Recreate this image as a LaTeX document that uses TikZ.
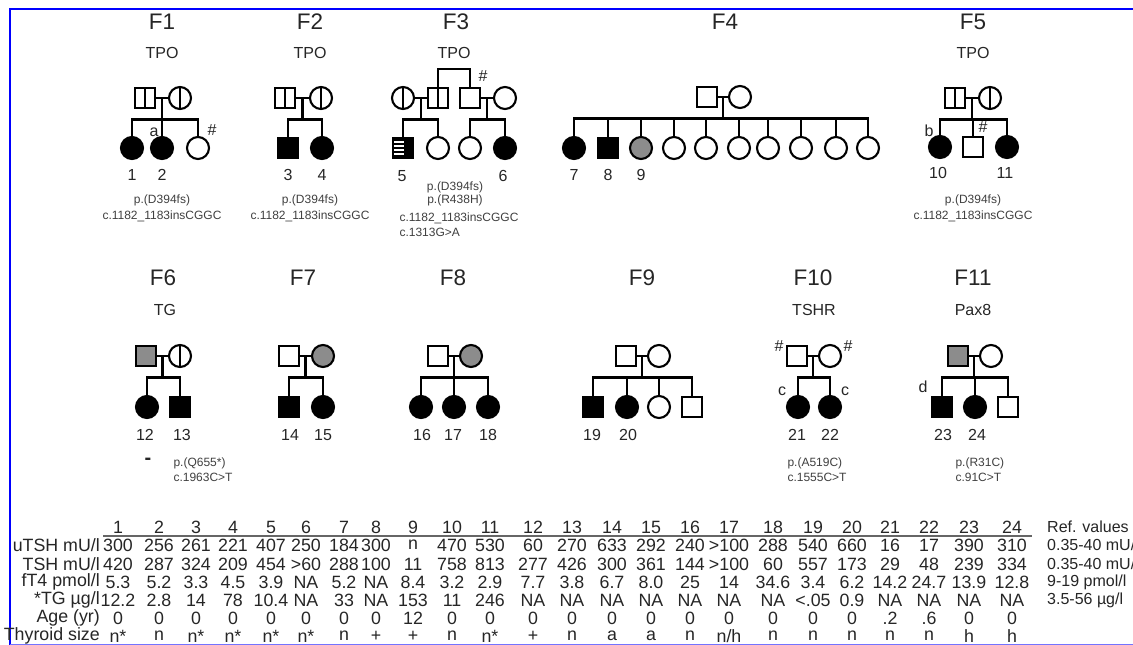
\documentclass[tikz,border=0pt]{standalone}
\usepackage{fontspec}
\setmainfont{Liberation Sans}
\usetikzlibrary{calc}
\tikzset{
  sym/.style={draw=black, line width=2.1pt, inner sep=0pt, outer sep=0pt},
  male/.style={sym, rectangle, minimum size=20pt},
  fem/.style={sym, circle, minimum size=22pt},
  aff/.style={fill=black},
  grey/.style={fill=black!45},
  vsplit/.style={path picture={\draw[line width=2.1pt] (path picture bounding box.north) -- (path picture bounding box.south);}},
  stripes/.style={fill=black, path picture={
     \foreach \k in {-7,-3,1,5}
       \fill[white] ($(path picture bounding box.center)+(-11,\k)$) rectangle ($(path picture bounding box.center)+(1,\k+2)$);}},
  ln/.style={line width=2.1pt, draw=black},
  ttl/.style={font=\fontsize{22.5}{24}\selectfont, text=black!85},
  gene/.style={font=\fontsize{16}{18}\selectfont, text=black!85},
  idl/.style={font=\fontsize{16}{18}\selectfont, text=black!85},
  mut/.style={font=\fontsize{12}{14}\selectfont, text=black!75},
  mutl/.style={mut, anchor=west},
  tab/.style={font=\fontsize{17.8}{20}\selectfont, text=black!85, inner sep=0pt},
  rowlab/.style={tab, anchor=east},
  refv/.style={font=\fontsize{16}{18}\selectfont, text=black!85, inner sep=0pt, anchor=west},
}
\newcommand{\couple}[1]{% prefix
  \draw[ln] (#1f.east) -- (#1m.west);
  \coordinate (#1j) at ($(#1f.east)!0.5!(#1m.west)$);
  \coordinate (#1s) at ($(#1j)+(0,21.5)$);
  \draw[ln] (#1j) -- (#1s);}
\begin{document}
\begin{tikzpicture}[x=1pt,y=-1pt]
\useasboundingbox (0,0) rectangle (1133,645);
\clip (0,0) rectangle (1133,645);
\fill[white] (0,0) rectangle (1133,645);
% border
\draw[blue, line width=2.5pt] (10,645) -- (10,9) -- (1133,9);
\draw[blue!55, line width=1.5pt] (10,644.5) -- (1133,644.5);

% ---------------- F1
\node[ttl] (F1t) at (162,22) {F1};
\node[gene] (F1g) at (162,53) {TPO};
\node[male,vsplit] (F1f) at (145,98) {};
\node[fem,vsplit] (F1m) at (180,98) {};
\couple{F1}
\node[fem,aff] (F1c1) at (132,148) {};
\node[fem,aff] (F1c2) at (162,148) {};
\node[fem] (F1c3) at (198,148) {};
\foreach \c in {F1c1,F1c2,F1c3} \draw[ln] (\c.north) |- (F1s);
\node[idl] (L1) at (132,175) {1};
\node[idl] (L2) at (162,175) {2};
\node[idl] (F1a) at (154,132) {a};
\node[idl] (F1h) at (212,130) {\#};
\node[mut] (F1p) at (162,200) {p.(D394fs)};
\node[mut] (F1cc) at (162,216) {c.1182\_1183insCGGC};

% ---------------- F2
\node[ttl] (F2t) at (310,22) {F2};
\node[gene] (F2g) at (310,53) {TPO};
\node[male,vsplit] (F2f) at (285,98) {};
\node[fem,vsplit] (F2m) at (321,98) {};
\couple{F2}
\node[male,aff] (F2c1) at (288,148) {};
\node[fem,aff] (F2c2) at (322,148) {};
\foreach \c in {F2c1,F2c2} \draw[ln] (\c.north) |- (F2s);
\node[idl] (L3) at (288,175) {3};
\node[idl] (L4) at (322,175) {4};
\node[mut] (F2p) at (310,200) {p.(D394fs)};
\node[mut] (F2cc) at (310,216) {c.1182\_1183insCGGC};

% ---------------- F3
\node[ttl] (F3t) at (456,22) {F3};
\node[gene] (F3g) at (454,53) {TPO};
\node[fem,vsplit] (F3am) at (403,98) {};
\node[male,vsplit] (F3af) at (438,98) {};
\node[male] (F3bf) at (470,98) {};
\node[fem] (F3bm) at (505,98) {};
\coordinate (F3top) at (454,69);
\draw[ln] (F3af.north) |- (F3top) -| (F3bf.north);
\draw[ln] (F3am.east) -- (F3af.west);
\coordinate (F3aj) at ($(F3am.east)!0.5!(F3af.west)$);
\coordinate (F3as) at ($(F3aj)+(0,21.5)$);
\draw[ln] (F3aj) -- (F3as);
\draw[ln] (F3bf.east) -- (F3bm.west);
\coordinate (F3bj) at ($(F3bf.east)!0.5!(F3bm.west)$);
\coordinate (F3bs) at ($(F3bj)+(0,21.5)$);
\draw[ln] (F3bj) -- (F3bs);
\node[male,stripes] (F3c1) at (403,148) {};
\node[fem] (F3c2) at (438,148) {};
\node[fem] (F3c3) at (470,148) {};
\node[fem,aff] (F3c4) at (505,148) {};
\foreach \c in {F3c1,F3c2} \draw[ln] (\c.north) |- (F3as);
\foreach \c in {F3c3,F3c4} \draw[ln] (\c.north) |- (F3bs);
\node[idl] (F3h) at (483,76) {\#};
\node[idl] (L5) at (402,176) {5};
\node[idl] (L6) at (503,176) {6};
\node[mut] (F3p1) at (455,187) {p.(D394fs)};
\node[mut] (F3p2) at (455,200) {p.(R438H)};
\node[mutl] (F3c1t) at (396,218) {c.1182\_1183insCGGC};
\node[mutl] (F3c2t) at (396,232) {c.1313G>A};

% ---------------- F4
\node[ttl] (F4t) at (725,22) {F4};
\node[male] (F4f) at (707,97) {};
\node[fem] (F4m) at (740,97) {};
\couple{F4}
\node[fem,aff] (F4c1) at (574,148) {};
\node[male,aff] (F4c2) at (608,148) {};
\node[fem,grey] (F4c3) at (641,148) {};
\node[fem] (F4c4) at (674,148) {};
\node[fem] (F4c5) at (706,148) {};
\node[fem] (F4c6) at (739,148) {};
\node[fem] (F4c7) at (768,148) {};
\node[fem] (F4c8) at (801,148) {};
\node[fem] (F4c9) at (836,148) {};
\node[fem] (F4c10) at (868,148) {};
\foreach \c in {F4c1,F4c2,F4c3,F4c4,F4c5,F4c6,F4c7,F4c8,F4c9,F4c10} \draw[ln] (\c.north) |- (F4s);
\node[idl] (L7) at (574,175) {7};
\node[idl] (L8) at (608,175) {8};
\node[idl] (L9) at (641,175) {9};

% ---------------- F5
\node[ttl] (F5t) at (973,22) {F5};
\node[gene] (F5g) at (973,53) {TPO};
\node[male,vsplit] (F5f) at (955,98) {};
\node[fem,vsplit] (F5m) at (990,98) {};
\couple{F5}
\node[fem,aff] (F5c1) at (940,147) {};
\node[male] (F5c2) at (973,147) {};
\node[fem,aff] (F5c3) at (1007,147) {};
\foreach \c in {F5c1,F5c2,F5c3} \draw[ln] (\c.north) |- (F5s);
\node[idl] (F5b) at (929,131) {b};
\node[idl] (F5h) at (983,127) {\#};
\node[idl] (L10) at (938,173) {10};
\node[idl] (L11) at (1005,173) {11};
\node[mut] (F5p) at (973,200) {p.(D394fs)};
\node[mut] (F5cc) at (973,216) {c.1182\_1183insCGGC};

% ---------------- F6
\node[ttl] (F6t) at (163,278) {F6};
\node[gene] (F6g) at (165,310) {TG};
\node[male,grey] (F6f) at (146,356) {};
\node[fem,vsplit] (F6m) at (180,356) {};
\couple{F6}
\node[fem,aff] (F6c1) at (147,407) {};
\node[male,aff] (F6c2) at (180,407) {};
\foreach \c in {F6c1,F6c2} \draw[ln] (\c.north) |- (F6s);
\node[idl] (L12) at (145,435) {12};
\node[idl] (L13) at (182,435) {13};
\node[font=\fontsize{20}{20}\selectfont\bfseries, text=black!85, inner sep=0pt] (F6d) at (148,461) {-};
\node[mutl] (F6p) at (170,463) {p.(Q655*)};
\node[mutl] (F6cc) at (170,477) {c.1963C>T};

% ---------------- F7
\node[ttl] (F7t) at (303,278) {F7};
\node[male] (F7f) at (289,356) {};
\node[fem,grey] (F7m) at (323,356) {};
\couple{F7}
\node[male,aff] (F7c1) at (289,407) {};
\node[fem,aff] (F7c2) at (323,407) {};
\foreach \c in {F7c1,F7c2} \draw[ln] (\c.north) |- (F7s);
\node[idl] (L14) at (290,435) {14};
\node[idl] (L15) at (323,435) {15};

% ---------------- F8
\node[ttl] (F8t) at (453,278) {F8};
\node[male] (F8f) at (438,356) {};
\node[fem,grey] (F8m) at (471,356) {};
\couple{F8}
\node[fem,aff] (F8c1) at (421,407) {};
\node[fem,aff] (F8c2) at (454,407) {};
\node[fem,aff] (F8c3) at (488,407) {};
\foreach \c in {F8c1,F8c2,F8c3} \draw[ln] (\c.north) |- (F8s);
\node[idl] (L16) at (422,435) {16};
\node[idl] (L17) at (453,435) {17};
\node[idl] (L18) at (488,435) {18};

% ---------------- F9
\node[ttl] (F9t) at (642,278) {F9};
\node[male] (F9f) at (626,356) {};
\node[fem] (F9m) at (659,356) {};
\couple{F9}
\node[male,aff] (F9c1) at (593,407) {};
\node[fem,aff] (F9c2) at (627,407) {};
\node[fem] (F9c3) at (659,407) {};
\node[male] (F9c4) at (692,407) {};
\foreach \c in {F9c1,F9c2,F9c3,F9c4} \draw[ln] (\c.north) |- (F9s);
\node[idl] (L19) at (592,435) {19};
\node[idl] (L20) at (628,435) {20};

% ---------------- F10
\node[ttl] (F10t) at (813,278) {F10};
\node[gene] (F10g) at (814,310) {TSHR};
\node[male] (F10f) at (797,356) {};
\node[fem] (F10m) at (830,356) {};
\couple{F10}
\node[fem,aff] (F10c1) at (798,407) {};
\node[fem,aff] (F10c2) at (830,407) {};
\foreach \c in {F10c1,F10c2} \draw[ln] (\c.north) |- (F10s);
\node[idl] (F10h1) at (779,346) {\#};
\node[idl] (F10h2) at (848,346) {\#};
\node[idl] (F10x1) at (782,391) {c};
\node[idl] (F10x2) at (845,391) {c};
\node[idl] (L21) at (797,435) {21};
\node[idl] (L22) at (830,435) {22};
\node[mutl] (F10p) at (784,463) {p.(A519C)};
\node[mutl] (F10cc) at (784,477) {c.1555C>T};

% ---------------- F11
\node[ttl] (F11t) at (973,278) {F11};
\node[gene] (F11g) at (973,310) {Pax8};
\node[male,grey] (F11f) at (958,356) {};
\node[fem] (F11m) at (991,356) {};
\couple{F11}
\node[male,aff] (F11c1) at (942,407) {};
\node[fem,aff] (F11c2) at (975,407) {};
\node[male] (F11c3) at (1008,407) {};
\foreach \c in {F11c1,F11c2,F11c3} \draw[ln] (\c.north) |- (F11s);
\node[idl] (F11d) at (923,387) {d};
\node[idl] (L23) at (943,435) {23};
\node[idl] (L24) at (977,435) {24};
\node[mutl] (F11p) at (952,463) {p.(R31C)};
\node[mutl] (F11cc) at (952,477) {c.91C>T};

% ---------------- table
\foreach \x [count=\i] in {118,159,196,233,271,306,344,376,413,452,490,533,572,612,651,690,729,773,813,852,890,929,969,1012}
  \node[tab] (h\i) at (\x,527) {\i};
\draw[line width=1.6pt, black!60] (103,536) -- (1032,536);
\node[rowlab] (r1) at (100,545) {uTSH mU/l};
\node[rowlab] (r2) at (100,564) {TSH mU/l};
\node[rowlab] (r3) at (100,582) {fT4 pmol/l};
\node[rowlab] (r4) at (100,600) {*TG µg/l};
\node[rowlab] (r5) at (100,618) {Age (yr)};
\node[rowlab] (r6) at (100,636) {Thyroid size};
\foreach \v [count=\i] in {300,256,261,221,407,250,184,300,n,470,530,60,270,633,292,240,>100,288,540,660,16,17,390,310}
  \node[tab] at (h\i |- 0,545) {\v};
\foreach \v [count=\i] in {420,287,324,209,454,>60,288,100,11,758,813,277,426,300,361,144,>100,60,557,173,29,48,239,334}
  \node[tab] at (h\i |- 0,564) {\v};
\foreach \v [count=\i] in {5.3,5.2,3.3,4.5,3.9,NA,5.2,NA,8.4,3.2,2.9,7.7,3.8,6.7,8.0,25,14,34.6,3.4,6.2,14.2,24.7,13.9,12.8}
  \node[tab] at (h\i |- 0,582) {\v};
\foreach \v [count=\i] in {12.2,2.8,14,78,10.4,NA,33,NA,153,11,246,NA,NA,NA,NA,NA,NA,NA,<.05,0.9,NA,NA,NA,NA}
  \node[tab] at (h\i |- 0,600) {\v};
\foreach \v [count=\i] in {0,0,0,0,0,0,0,0,12,0,0,0,0,0,0,0,0,0,0,0,.2,.6,0,0}
  \node[tab] at (h\i |- 0,618) {\v};
\foreach \v [count=\i] in {n*,n,n*,n*,n*,n*,n,+,+,n,n*,+,n,a,a,n,n/h,n,n,n,n,n,h,h}
  \node[tab] at (h\i |- 0,636) {\v};
\node[refv] (rv0) at (1047,527) {Ref. values};
\node[refv] (rv1) at (1047,545) {0.35-40 mU/l};
\node[refv] (rv2) at (1047,564) {0.35-40 mU/l};
\node[refv] (rv3) at (1047,582) {9-19 pmol/l};
\node[refv] (rv4) at (1047,600) {3.5-56 µg/l};
\end{tikzpicture}
\end{document}
